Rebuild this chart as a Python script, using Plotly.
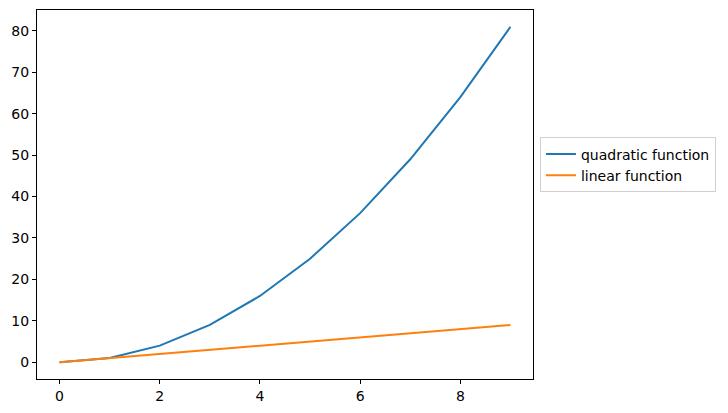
import plotly.graph_objects as go

x = [0, 1, 2, 3, 4, 5, 6, 7, 8, 9]
quadratic = [0, 1, 4, 9, 16, 25, 36, 49, 64, 81]
linear = [0, 1, 2, 3, 4, 5, 6, 7, 8, 9]

fig = go.Figure()
fig.add_trace(go.Scatter(x=x, y=quadratic, mode="lines", name="quadratic function",
                         line=dict(color="#1f77b4", width=2)))
fig.add_trace(go.Scatter(x=x, y=linear, mode="lines", name="linear function",
                         line=dict(color="#ff7f0e", width=2)))

axis_style = dict(showgrid=False, zeroline=False, showline=True, linecolor="black",
                  linewidth=1, mirror=True, ticks="outside", ticklen=4, tickcolor="black",
                  tickfont=dict(size=14, color="black"))

fig.update_xaxes(range=[-0.45, 9.45], tickvals=[0, 2, 4, 6, 8], **axis_style)
fig.update_yaxes(range=[-4.05, 85.05], tickvals=[0, 10, 20, 30, 40, 50, 60, 70, 80], **axis_style)

# page body adds 8px, so figure is drawn a bit smaller
fig.update_layout(
    width=720, height=405,
    margin=dict(l=29, r=195, t=2, b=34),
    plot_bgcolor="white", paper_bgcolor="white",
    font=dict(family="DejaVu Sans", size=14, color="black"),
    legend=dict(x=1.014, y=0.58, xanchor="left", yanchor="middle",
                bordercolor="#d0d0d0", borderwidth=1, bgcolor="white",
                font=dict(size=14), itemwidth=30, tracegroupgap=0),
)

fig.write_html("out.html")
